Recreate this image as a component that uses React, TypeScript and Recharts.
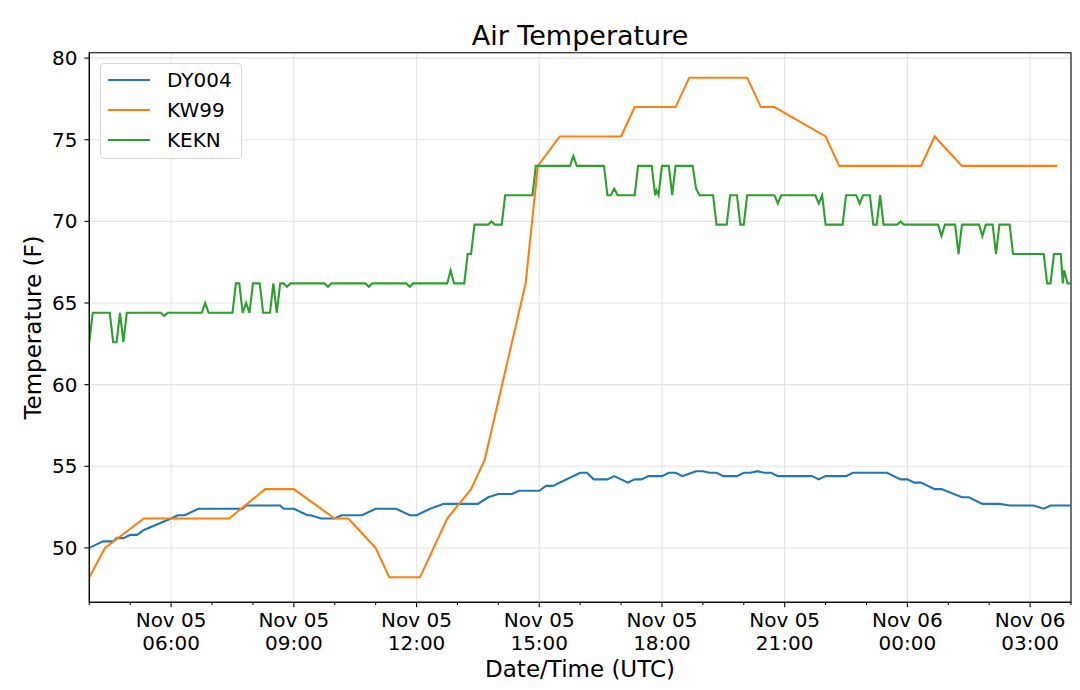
import React from "react";
import {
  LineChart,
  Line,
  XAxis,
  YAxis,
  CartesianGrid,
  Legend,
  ReferenceArea,
} from "recharts";

if (typeof document !== "undefined") document.body.style.margin = "0";

// [day time (UTC), temperature F]
const dy004: [string, number][] = [
  ["05 04:00", 50.0], ["05 04:20", 50.4], ["05 04:35", 50.4], ["05 04:40", 50.6],
  ["05 04:50", 50.6], ["05 05:00", 50.8], ["05 05:10", 50.8], ["05 05:20", 51.1],
  ["05 06:00", 51.8], ["05 06:10", 52.0], ["05 06:20", 52.0], ["05 06:40", 52.4],
  ["05 07:45", 52.4], ["05 07:50", 52.6], ["05 08:40", 52.6], ["05 08:45", 52.4],
  ["05 09:00", 52.4], ["05 09:20", 52.0], ["05 09:25", 52.0], ["05 09:40", 51.8],
  ["05 10:00", 51.8], ["05 10:10", 52.0], ["05 10:40", 52.0], ["05 11:00", 52.4],
  ["05 11:30", 52.4], ["05 11:50", 52.0], ["05 12:00", 52.0], ["05 12:20", 52.4],
  ["05 12:40", 52.7], ["05 13:30", 52.7], ["05 13:45", 53.1], ["05 14:00", 53.3],
  ["05 14:20", 53.3], ["05 14:30", 53.5], ["05 15:00", 53.5], ["05 15:10", 53.8],
  ["05 15:20", 53.8], ["05 16:00", 54.6], ["05 16:10", 54.6], ["05 16:20", 54.2],
  ["05 16:40", 54.2], ["05 16:50", 54.4], ["05 17:10", 54.0], ["05 17:20", 54.2],
  ["05 17:30", 54.2], ["05 17:40", 54.4], ["05 18:00", 54.4], ["05 18:10", 54.6],
  ["05 18:20", 54.6], ["05 18:30", 54.4], ["05 18:50", 54.7], ["05 19:00", 54.7],
  ["05 19:10", 54.6], ["05 19:20", 54.6], ["05 19:30", 54.4], ["05 19:50", 54.4],
  ["05 20:00", 54.6], ["05 20:10", 54.6], ["05 20:20", 54.7], ["05 20:30", 54.6],
  ["05 20:40", 54.6], ["05 20:50", 54.4], ["05 21:40", 54.4], ["05 21:50", 54.2],
  ["05 22:00", 54.4], ["05 22:30", 54.4], ["05 22:40", 54.6], ["05 23:30", 54.6],
  ["05 23:50", 54.2], ["06 00:00", 54.2], ["06 00:10", 54.0], ["06 00:20", 54.0],
  ["06 00:40", 53.6], ["06 00:50", 53.6], ["06 01:20", 53.1], ["06 01:30", 53.1],
  ["06 01:50", 52.7], ["06 02:15", 52.7], ["06 02:30", 52.6], ["06 03:05", 52.6],
  ["06 03:20", 52.4], ["06 03:30", 52.6], ["06 04:00", 52.6],
];

const kw99: [string, number][] = [
  ["05 04:00", 48.2], ["05 04:23", 50.0], ["05 05:20", 51.8], ["05 07:25", 51.8],
  ["05 08:18", 53.6], ["05 09:00", 53.6], ["05 10:00", 51.8], ["05 10:20", 51.8],
  ["05 11:00", 50.0], ["05 11:20", 48.2], ["05 12:05", 48.2], ["05 12:45", 51.8],
  ["05 13:20", 53.6], ["05 13:40", 55.4], ["05 14:00", 59.0], ["05 14:40", 66.2],
  ["05 14:58", 73.4], ["05 15:30", 75.2], ["05 17:00", 75.2], ["05 17:20", 77.0],
  ["05 18:20", 77.0], ["05 18:40", 78.8], ["05 20:05", 78.8], ["05 20:25", 77.0],
  ["05 20:45", 77.0], ["05 22:00", 75.2], ["05 22:20", 73.4], ["06 00:20", 73.4],
  ["06 00:40", 75.2], ["06 01:20", 73.4], ["06 03:40", 73.4],
];

const kekn: [string, number][] = [
  ["05 04:00", 62.6], ["05 04:05", 64.4], ["05 04:30", 64.4], ["05 04:35", 62.6],
  ["05 04:40", 62.6], ["05 04:45", 64.4], ["05 04:50", 62.6], ["05 04:55", 64.4],
  ["05 05:45", 64.4], ["05 05:50", 64.2], ["05 05:55", 64.4], ["05 06:45", 64.4],
  ["05 06:50", 65.0], ["05 06:55", 64.4], ["05 07:30", 64.4], ["05 07:35", 66.2],
  ["05 07:40", 66.2], ["05 07:45", 64.4], ["05 07:50", 65.0], ["05 07:55", 64.4],
  ["05 08:00", 66.2], ["05 08:10", 66.2], ["05 08:15", 64.4], ["05 08:25", 64.4],
  ["05 08:30", 66.2], ["05 08:35", 64.4], ["05 08:40", 66.2], ["05 08:45", 66.2],
  ["05 08:50", 66.0], ["05 08:55", 66.2], ["05 09:45", 66.2], ["05 09:50", 66.0],
  ["05 09:55", 66.2], ["05 10:45", 66.2], ["05 10:50", 66.0], ["05 10:55", 66.2],
  ["05 11:45", 66.2], ["05 11:50", 66.0], ["05 11:55", 66.2], ["05 12:45", 66.2],
  ["05 12:50", 67.0], ["05 12:55", 66.2], ["05 13:10", 66.2], ["05 13:15", 68.0],
  ["05 13:20", 68.0], ["05 13:25", 69.8], ["05 13:45", 69.8], ["05 13:50", 70.0],
  ["05 13:55", 69.8], ["05 14:05", 69.8], ["05 14:10", 71.6], ["05 14:50", 71.6],
  ["05 14:55", 73.4], ["05 15:45", 73.4], ["05 15:50", 74.0], ["05 15:55", 73.4],
  ["05 16:35", 73.4], ["05 16:40", 71.6], ["05 16:45", 71.6], ["05 16:50", 72.0],
  ["05 16:55", 71.6], ["05 17:20", 71.6], ["05 17:25", 73.4], ["05 17:45", 73.4],
  ["05 17:50", 71.6], ["05 17:52", 71.9], ["05 17:55", 71.6], ["05 18:00", 73.4],
  ["05 18:10", 73.4], ["05 18:15", 71.6], ["05 18:20", 73.4], ["05 18:45", 73.4],
  ["05 18:50", 72.0], ["05 18:55", 71.6], ["05 19:15", 71.6], ["05 19:20", 69.8],
  ["05 19:35", 69.8], ["05 19:40", 71.6], ["05 19:50", 71.6], ["05 19:55", 69.8],
  ["05 20:00", 69.8], ["05 20:05", 71.6], ["05 20:45", 71.6], ["05 20:50", 71.1],
  ["05 20:55", 71.6], ["05 21:45", 71.6], ["05 21:50", 71.1], ["05 21:55", 71.6],
  ["05 22:00", 69.8], ["05 22:25", 69.8], ["05 22:30", 71.6], ["05 22:45", 71.6],
  ["05 22:50", 71.1], ["05 22:55", 71.6], ["05 23:05", 71.6], ["05 23:10", 69.8],
  ["05 23:15", 69.8], ["05 23:20", 71.6], ["05 23:25", 69.8], ["05 23:45", 69.8],
  ["05 23:50", 70.0], ["05 23:55", 69.8], ["06 00:45", 69.8], ["06 00:50", 69.1],
  ["06 00:55", 69.8], ["06 01:10", 69.8], ["06 01:15", 68.0], ["06 01:20", 69.8],
  ["06 01:45", 69.8], ["06 01:50", 69.1], ["06 01:55", 69.8], ["06 02:05", 69.8],
  ["06 02:10", 68.0], ["06 02:15", 69.8], ["06 02:30", 69.8], ["06 02:35", 68.0],
  ["06 03:20", 68.0], ["06 03:25", 66.2], ["06 03:30", 66.2], ["06 03:35", 68.0],
  ["06 03:45", 68.0], ["06 03:48", 66.2], ["06 03:50", 67.0], ["06 03:55", 66.2],
  ["06 04:00", 66.2],
];

const series = [
  { name: "DY004", color: "#1f77b4", rows: dy004 },
  { name: "KW99", color: "#ff7f0e", rows: kw99 },
  { name: "KEKN", color: "#2ca02c", rows: kekn },
];

// hours since Nov 05 00:00 UTC
const hourTicks = Array.from({ length: 25 }, (_, i) => i + 4);
const majorHours = [6, 9, 12, 15, 18, 21, 24, 27];
const tempTicks = [50, 55, 60, 65, 70, 75, 80];
const X_DOMAIN: [number, number] = [4, 28];
const Y_DOMAIN: [number, number] = [46.67, 80.33];

const FONT = "'DejaVu Sans', sans-serif";

function toHours(stamp: string) {
  const [day, time] = stamp.split(" ");
  const [hh, mm] = time.split(":").map(Number);
  return (Number(day) - 5) * 24 + hh + mm / 60;
}

function toRows(rows: [string, number][]) {
  return rows.map(([stamp, temp]) => ({ t: toHours(stamp), temp }));
}

function HourTick({ x, y, payload }: any) {
  const h = payload.value as number;
  const major = majorHours.includes(h);
  const day = h >= 24 ? "Nov 06" : "Nov 05";
  const time = String(h % 24).padStart(2, "0") + ":00";
  return (
    <g>
      <line x1={x} x2={x} y1={y} y2={y + (major ? 4.9 : 2.8)} stroke="#000" strokeWidth={1.1} />
      {major && (
        <text textAnchor="middle" fontSize={20} fill="#000" fontFamily={FONT}>
          <tspan x={x} y={y + 24.5}>{day}</tspan>
          <tspan x={x} y={y + 47.8}>{time}</tspan>
        </text>
      )}
    </g>
  );
}

// fixed-position texts (title, axis labels), like matplotlib draws them
const textAt = (x: number, y: number, text: string, size: number, rotate = false) => () =>
  (
    <text
      x={x}
      y={y}
      textAnchor="middle"
      fontSize={size}
      fill="#000"
      fontFamily={FONT}
      transform={rotate ? `rotate(-90, ${x}, ${y})` : undefined}
    >
      {text}
    </text>
  );

function LegendBox() {
  return (
    <div
      style={{
        position: "relative",
        width: 142,
        height: 96,
        boxSizing: "border-box",
        border: "1px solid #d6d6d6",
        borderRadius: 4,
        background: "rgba(255,255,255,0.8)",
        fontFamily: FONT,
      }}
    >
      {series.map((s, i) => (
        <div
          key={s.name}
          style={{
            position: "absolute",
            left: 0,
            top: 1 + i * 29.9,
            height: 30,
            display: "flex",
            alignItems: "center",
          }}
        >
          <div style={{ width: 42, height: 2.1, marginLeft: 7, background: s.color }} />
          <span style={{ marginLeft: 17, fontSize: 20, lineHeight: "20px", color: "#000" }}>
            {s.name}
          </span>
        </div>
      ))}
    </div>
  );
}

export default function App() {
  return (
    <div style={{ width: 1080, height: 690, background: "#fff", fontFamily: FONT }}>
      <LineChart width={1080} height={690} margin={{ top: 52.7, right: 9, left: 0, bottom: 0 }}>
        <CartesianGrid stroke="#e4e4e4" strokeWidth={1.1} verticalValues={majorHours} />
        <XAxis
          type="number"
          dataKey="t"
          domain={X_DOMAIN}
          ticks={hourTicks}
          interval={0}
          allowDataOverflow
          height={87.7}
          tickSize={0}
          tickMargin={0}
          tickLine={false}
          tick={<HourTick />}
          axisLine={{ stroke: "#000", strokeWidth: 1.1 }}
          label={textAt(580, 676.5, "Date/Time (UTC)", 23)}
        />
        <YAxis
          type="number"
          domain={Y_DOMAIN}
          ticks={tempTicks}
          allowDataOverflow
          width={89.3}
          tickSize={4.9}
          tickMargin={7}
          tick={{ fill: "#000", fontSize: 20, fontFamily: FONT }}
          tickLine={{ stroke: "#000", strokeWidth: 1.1 }}
          axisLine={{ stroke: "#000", strokeWidth: 1.1 }}
          label={textAt(41, 327.5, "Temperature (F)", 23, true)}
        />
        <Legend
          layout="vertical"
          align="center"
          verticalAlign="middle"
          wrapperStyle={{ left: 100, top: 63, width: 142, height: 96 }}
          content={<LegendBox />}
        />
        {series.map((s) => (
          <Line
            key={s.name}
            name={s.name}
            data={toRows(s.rows)}
            dataKey="temp"
            type="linear"
            stroke={s.color}
            strokeWidth={2.1}
            dot={false}
            isAnimationActive={false}
          />
        ))}
        <ReferenceArea
          x1={X_DOMAIN[0]}
          x2={X_DOMAIN[1]}
          y1={Y_DOMAIN[0]}
          y2={Y_DOMAIN[1]}
          fill="none"
          fillOpacity={0}
          stroke="#000"
          strokeWidth={1.1}
          label={textAt(580, 45, "Air Temperature", 27)}
        />
      </LineChart>
    </div>
  );
}
